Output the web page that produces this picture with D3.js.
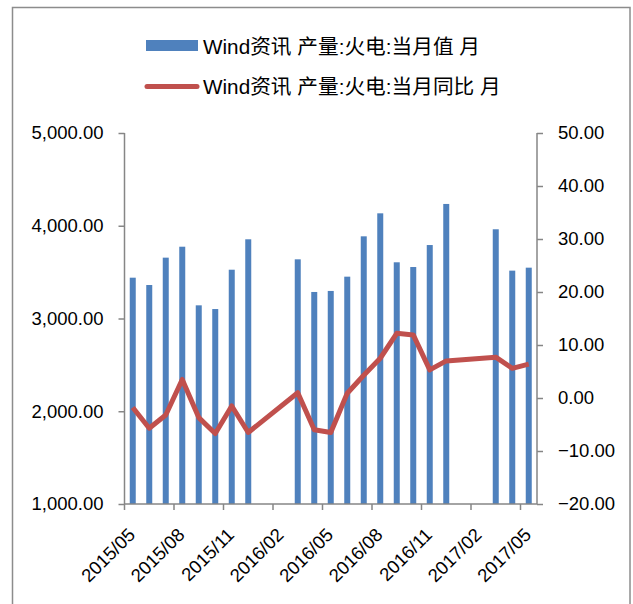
<!DOCTYPE html>
<html>
<head>
<meta charset="utf-8">
<script src="https://cdn.jsdelivr.net/npm/d3@7"></script>
<style>
  body { margin: 0; background: #fff; }
  text { font-family: "Liberation Sans", "Noto Sans CJK SC", sans-serif; fill: #000; }
</style>
</head>
<body>
<svg id="chart" width="633" height="604"></svg>
<script>
// months on the category axis
const months = ["2015/05","2015/06","2015/07","2015/08","2015/09","2015/10","2015/11","2015/12",
  "2016/01","2016/02","2016/03","2016/04","2016/05","2016/06","2016/07","2016/08","2016/09",
  "2016/10","2016/11","2016/12","2017/01","2017/02","2017/03","2017/04","2017/05"];
// thermal power output, monthly value (left axis); null = no data
const monthValue = [3440, 3361, 3656, 3774, 3142, 3102, 3526, 3854,
  null, null, 3638, 3286, 3297, 3451, 3886, 4134, 3606,
  3555, 3792, 4235, null, null, 3962, 3516, 3548];
// year-on-year change (right axis)
const yoyValue = [-1.8, -5.7, -3.2, 3.5, -3.7, -6.7, -1.5, -6.5,
  null, null, 1.0, -6.0, -6.5, 0.9, 4.3, 7.5, 12.2,
  11.9, 5.3, 7.0, null, null, 7.7, 5.6, 6.4];
const tickMonths = ["2015/05","2015/08","2015/11","2016/02","2016/05","2016/08","2016/11","2017/02","2017/05"];
const leftTicks = [1000, 2000, 3000, 4000, 5000];
const rightTicks = [-20, -10, 0, 10, 20, 30, 40, 50];
const legendNames = ["Wind资讯 产量:火电:当月值 月", "Wind资讯 产量:火电:当月同比 月"];

const svg = d3.select("#chart");
const plot = { left: 124.5, right: 537, top: 133, bottom: 504 };
const axisColor = "#868686";

// outer frame
svg.append("rect").attr("x", 12.5).attr("y", 7.5).attr("width", 617.5).attr("height", 610)
  .attr("fill", "none").attr("stroke", "#8c8c8c").attr("stroke-width", 1.5);

const x = d3.scaleBand().domain(months).range([plot.left, plot.right]);
const yL = d3.scaleLinear().domain([1000, 5000]).range([plot.bottom, plot.top]);
const yR = d3.scaleLinear().domain([-20, 50]).range([plot.bottom, plot.top]);

// bars
const barW = 6;
svg.append("g").selectAll("rect")
  .data(months.map((m, i) => ({ m, v: monthValue[i] })).filter(d => d.v != null))
  .join("rect")
  .attr("x", d => x(d.m) + x.bandwidth() / 2 - barW / 2)
  .attr("y", d => yL(d.v))
  .attr("width", barW)
  .attr("height", d => yL(1000) - yL(d.v))
  .attr("fill", "#4f81bd");

// left axis
const leftAxis = svg.append("g").attr("transform", `translate(${plot.left},0)`)
  .call(d3.axisLeft(yL).tickValues(leftTicks).tickSize(6).tickPadding(15)
    .tickFormat(d3.format(",.2f")));
// right axis
const rightAxis = svg.append("g").attr("transform", `translate(${plot.right},0)`)
  .call(d3.axisRight(yR).tickValues(rightTicks).tickSize(6).tickPadding(15)
    .tickFormat(d3.format(".2f")));
// bottom axis, ticks at left edge of the band
const bottomAxis = svg.append("g").attr("transform", `translate(0,${plot.bottom})`);
bottomAxis.append("line").attr("x1", plot.left).attr("x2", plot.right);
bottomAxis.selectAll(".tk").data(tickMonths).join("line").attr("class", "tk")
  .attr("x1", d => x(d)).attr("x2", d => x(d)).attr("y1", 0).attr("y2", 6);
bottomAxis.selectAll("text").data(tickMonths).join("text")
  .attr("transform", d => `translate(${x(d) + x.bandwidth() / 2 + 3.5},32) rotate(-45)`)
  .attr("text-anchor", "end")
  .attr("font-size", 18.5)
  .text(d => d);

[leftAxis, rightAxis].forEach(a => {
  a.select(".domain").remove();
  a.append("line").attr("y1", plot.top).attr("y2", plot.bottom);
  a.selectAll("text").attr("font-size", 18.5).attr("font-family", null).attr("fill", "#000");
});
svg.selectAll("g line").attr("stroke", axisColor).attr("stroke-width", 1.5);

// yoy line, gaps connected
const linePts = months.map((m, i) => ({ m, v: yoyValue[i] })).filter(d => d.v != null);
svg.append("path")
  .datum(linePts)
  .attr("fill", "none")
  .attr("stroke", "#c0504d")
  .attr("stroke-width", 5)
  .attr("stroke-linejoin", "round")
  .attr("d", d3.line().x(d => x(d.m) + x.bandwidth() / 2).y(d => yR(d.v)));

// legend
const legend = svg.append("g");
legend.append("rect").attr("x", 146).attr("y", 40).attr("width", 52).attr("height", 11).attr("fill", "#4f81bd");
legend.append("text").attr("x", 203).attr("y", 53.5).attr("font-size", 20.7).text(legendNames[0]);
legend.append("line").attr("x1", 147).attr("x2", 197).attr("y1", 86.5).attr("y2", 86.5)
  .attr("stroke", "#c0504d").attr("stroke-width", 5).attr("stroke-linecap", "round");
legend.append("text").attr("x", 203).attr("y", 93.5).attr("font-size", 20.7).text(legendNames[1]);
</script>
</body>
</html>
